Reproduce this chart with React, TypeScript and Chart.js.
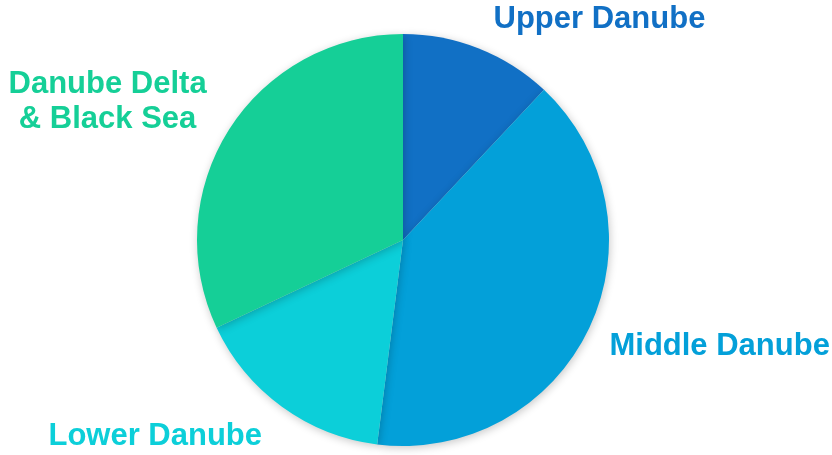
import React, { useEffect, useRef } from "react";
import { Chart, registerables } from "chart.js";

Chart.register(...registerables);

const categories: string[][] = [
  ["Upper Danube"],
  ["Middle Danube"],
  ["Lower Danube"],
  ["Danube Delta", "& Black Sea"],
];
const shares: number[] = [12, 40, 16, 32];
const colors: string[] = ["#1170C5", "#03A0D9", "#0CCFD9", "#15CF97"];

const FONT = "bold 31px 'Liberation Sans', Arial, sans-serif";
const LINE_H = 35;

const shadowPlugin = {
  id: "pieShadow",
  beforeDatasetsDraw(chart: any) {
    const ctx = chart.ctx;
    ctx.save();
    ctx.shadowColor = "rgba(0,0,0,0.22)";
    ctx.shadowBlur = 8;
    ctx.shadowOffsetX = 1;
    ctx.shadowOffsetY = 2;
  },
  afterDatasetsDraw(chart: any) {
    chart.ctx.restore();
  },
};

const labelPlugin = {
  id: "outsideLabels",
  afterDraw(chart: any) {
    const ctx = chart.ctx;
    const meta = chart.getDatasetMeta(0);
    ctx.save();
    ctx.font = FONT;
    ctx.textBaseline = "middle";
    meta.data.forEach((arc: any, i: number) => {
      const { x, y, startAngle, endAngle, outerRadius } = arc.getProps(
        ["x", "y", "startAngle", "endAngle", "outerRadius"],
        true
      );
      const mid = (startAngle + endAngle) / 2;
      const r = outerRadius + 10;
      const px = x + Math.cos(mid) * r;
      const py = y + Math.sin(mid) * r;
      const right = Math.cos(mid) >= 0;
      const lower = Math.sin(mid) >= 0;
      const lines = categories[i];
      const maxW = Math.max(...lines.map((l) => ctx.measureText(l).width));
      const blockH = lines.length * LINE_H;
      const cx = right ? px + 11 + maxW / 2 : px - 14 - maxW / 2;
      const cy = lower ? py + (i === 1 ? 14 : 22) : py - 20 - (lines.length - 1) * 2;
      ctx.fillStyle = colors[i];
      ctx.textAlign = "center";
      lines.forEach((l, k) => {
        ctx.fillText(l, cx, cy - blockH / 2 + LINE_H / 2 + k * LINE_H);
      });
    });
    ctx.restore();
  },
};

export default function App() {
  const ref = useRef<HTMLCanvasElement>(null);
  useEffect(() => {
    if (!ref.current) return;
    const chart = new Chart(ref.current, {
      type: "pie",
      data: {
        labels: categories.map((c) => c.join(" ")),
        datasets: [
          {
            data: shares,
            backgroundColor: colors,
            borderWidth: 0,
          },
        ],
      },
      options: {
        animation: false,
        responsive: false,
        maintainAspectRatio: false,
        layout: { padding: { left: 97, right: 123, top: 34, bottom: 9 } },
        plugins: {
          legend: { display: false },
          tooltip: { enabled: false },
        },
      },
      plugins: [shadowPlugin, labelPlugin],
    });
    return () => chart.destroy();
  }, []);
  return (
    <div style={{ position: "fixed", left: 0, top: 0, width: 832, height: 455, background: "#fff" }}>
      <canvas ref={ref} width={832} height={455} style={{ width: 832, height: 455 }} />
    </div>
  );
}
